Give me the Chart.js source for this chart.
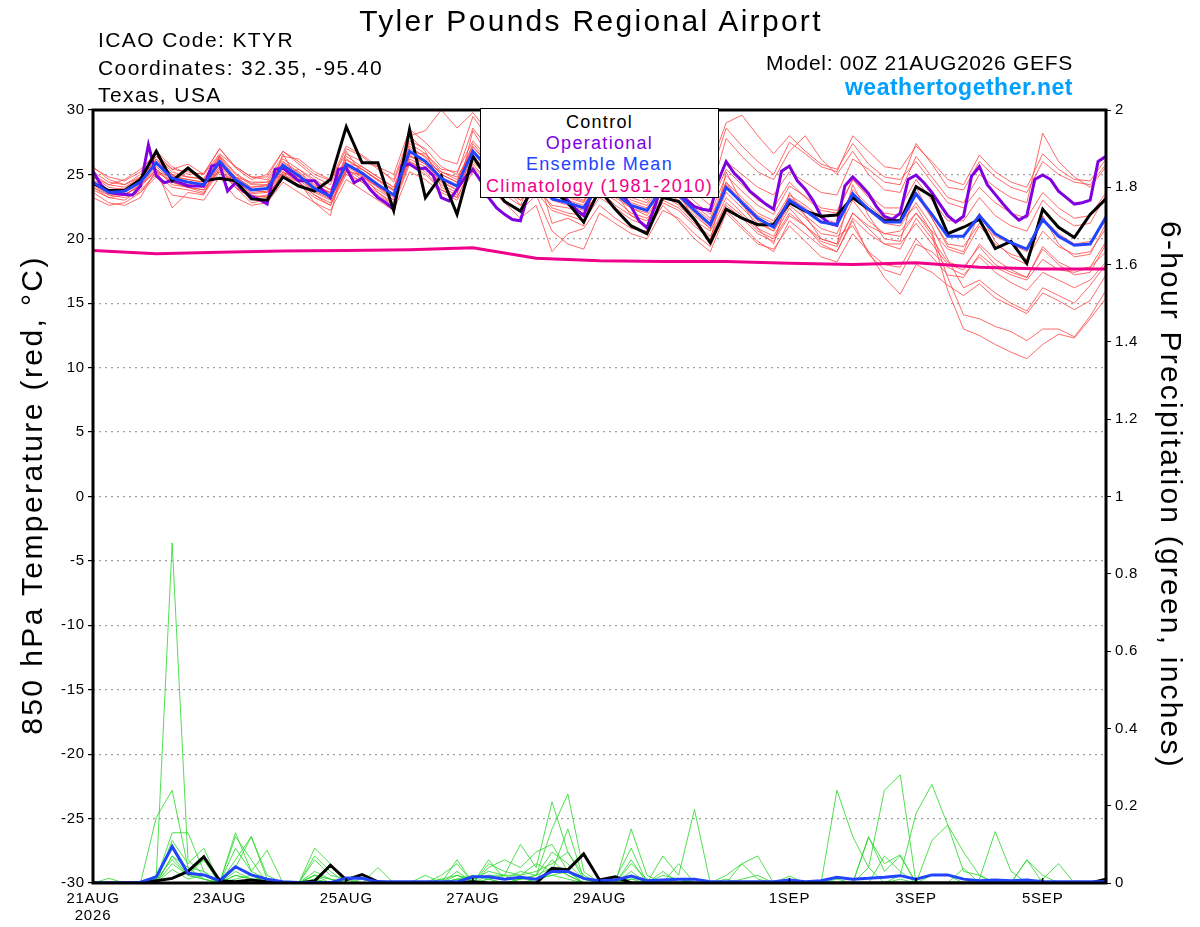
<!DOCTYPE html>
<html>
<head>
<meta charset="utf-8">
<script src="https://cdn.jsdelivr.net/npm/chart.js@4.4.1/dist/chart.umd.min.js"></script>
<style>
  body { margin: 0; background: #fff; font-family: "Liberation Sans", Arial, sans-serif; }
  #wrap { position: relative; width: 1200px; height: 927px; overflow: hidden; }
  #c { position: absolute; left: 0; top: 0; }
  .t { position: absolute; line-height: 1; white-space: nowrap; color: #000; }
  #title { left: 291px; width: 600px; text-align: center; top: 6px; font-size: 30px; letter-spacing: 2.3px; }
  .info { left: 98px; font-size: 21px; letter-spacing: 1.4px; }
  .rinfo { right: 127px; font-size: 21px; text-align: right; letter-spacing: 0.7px; }
  #site { font-weight: bold; font-size: 23px; color: #00a0ff; letter-spacing: 0.5px; }
  #legend { position: absolute; left: 480px; top: 108px; width: 237px; height: 88px;
            border: 1px solid #000; background: #fff; font-size: 18px; text-align: center; letter-spacing: 1.3px; }
  #legend div { position: absolute; left: 0; width: 100%; line-height: 1; }
  .axt { position: absolute; width: 700px; height: 30px; line-height: 30px; font-size: 30px;
         text-align: center; white-space: nowrap; color: #000; }
  #ytitle { left: -318px; top: 480px; transform: rotate(-90deg); letter-spacing: 2.4px; }
  #y2title { left: 821px; top: 480px; transform: rotate(90deg); letter-spacing: 2.2px; }
</style>
</head>
<body>
<div id="wrap">
  <canvas id="c" width="1200" height="927"></canvas>
  <div class="t" id="title">Tyler Pounds Regional Airport</div>
  <div class="t info" style="top:28.5px">ICAO Code: KTYR</div>
  <div class="t info" style="top:56.5px">Coordinates: 32.35, -95.40</div>
  <div class="t info" style="top:83.5px">Texas, USA</div>
  <div class="t rinfo" style="top:52px">Model: 00Z 21AUG2026 GEFS</div>
  <div class="t rinfo" id="site" style="top:76px">weathertogether.net</div>
  <div class="axt" id="ytitle">850 hPa Temperature (red, °C)</div>
  <div class="axt" id="y2title">6-hour Precipitation (green, inches)</div>
  <div id="legend">
    <div style="top:4px;color:#000">Control</div>
    <div style="top:25px;color:#8000e0">Operational</div>
    <div style="top:46px;color:#2244ff">Ensemble Mean</div>
    <div style="top:68px;color:#f0008a">Climatology (1981-2010)</div>
  </div>
</div>
<script>
// x axis in forecast hours from 00Z 21AUG2026
const tickHours = [0, 48, 96, 144, 192, 264, 312, 360];
const tickLabels = ['21AUG', '23AUG', '25AUG', '27AUG', '29AUG', '1SEP', '3SEP', '5SEP'];
const tickYear = '2026';

// 850 hPa temperature (C), 6-hourly
const controlT = [24.3,23.75,23.75,24.6,26.8,24.5,25.5,24.5,24.7,24.5,23.1,23.0,24.8,24.1,23.7,24.6,28.7,25.9,25.9,22.2,28.5,23.2,24.9,21.9,26.4,24.6,22.9,22.15,24.5,23.8,22.8,21.3,23.8,22.3,21.0,20.4,23.2,22.9,21.5,19.7,22.3,21.6,21.1,21.1,22.8,22.15,21.75,21.85,23.2,22.3,21.4,21.4,24.05,23.3,20.4,20.9,21.5,19.25,19.8,18.1,22.3,20.9,20.1,21.9,23.1];
const meanT = [24.4,23.6,23.7,24.4,25.9,24.7,24.4,24.2,26.0,24.6,23.8,23.9,25.7,24.9,23.9,23.3,25.8,25.1,24.2,23.4,26.8,26.0,24.7,24.1,26.8,25.4,24.2,23.5,24.6,23.1,22.8,22.4,24.3,23.5,22.6,22.2,24.0,23.4,22.2,21.1,24.0,22.8,21.6,20.9,23.0,22.2,21.3,21.1,23.5,22.3,21.3,21.3,23.5,21.9,20.2,20.2,21.8,20.4,19.7,19.2,21.5,20.2,19.5,19.6,21.7];
// operational run, 3-hourly
const operT = [25.25,24.2,23.6,23.5,23.45,23.4,24.1,27.3,24.9,24.35,24.55,24.35,24.1,24.1,24.1,25.65,25.8,23.7,24.35,23.7,23.3,23.05,22.7,25.4,25.5,25.0,24.5,24.5,24.5,23.8,23.2,25.4,25.5,24.35,24.7,23.85,23.2,22.8,22.3,25.65,25.8,25.4,25.5,24.9,23.2,22.95,23.85,24.75,25.4,24.5,23.2,22.4,21.9,21.5,21.4,23.5,25.0,24.5,24.0,23.6,23.0,22.3,21.8,23.5,25.0,24.5,24.0,23.4,22.5,21.4,20.85,22.5,24.5,24.0,23.5,23.0,22.5,22.3,22.2,24.5,26.0,25.1,24.5,23.7,23.2,22.7,22.3,25.25,25.65,24.5,23.85,22.95,21.75,21.2,21.05,24.1,24.8,24.2,23.5,22.5,21.75,21.5,22.0,24.6,24.95,24.35,23.6,22.7,21.8,21.3,21.75,24.85,25.6,24.2,23.45,22.7,22.0,21.45,21.8,24.6,24.95,24.6,23.7,23.2,22.7,22.8,23.0,26.0,26.4];
// climatology, daily
const climT = [19.1,18.85,18.95,19.05,19.1,19.15,19.3,18.5,18.3,18.25,18.25,18.1,18.0,18.15,17.8,17.65,17.65];

// ensemble members, 6-hourly
const memberT = [
  [25.5,24.8,24.5,25.2,26.8,25.6,25.0,25.1,27.0,25.5,24.6,25.0,26.8,26.0,25.0,24.5,27.2,26.5,25.6,25.0,28.5,27.5,26.2,25.8,29.5,27.8,26.5,25.8,27.0,25.6,25.2,24.8,27.0,26.2,25.4,25.0,27.6,26.8,25.8,24.8,28.6,27.2,26.0,25.0,27.5,26.6,25.6,25.2,28.0,26.8,25.6,25.4,27.2,26.0,24.6,24.2,26.5,25.2,24.4,24.0,26.6,25.4,24.6,24.5,26.2],
  [23.8,23.2,23.0,23.8,25.0,24.0,23.8,23.5,25.2,24.0,23.2,23.3,25.0,24.2,23.2,22.6,25.0,24.4,23.4,22.6,25.8,25.0,23.8,23.2,25.6,24.4,23.4,22.6,23.6,22.2,21.8,21.4,23.2,22.4,21.5,21.0,22.8,22.2,21.0,20.0,22.6,21.6,20.4,19.8,21.8,21.0,20.0,19.6,22.0,20.8,19.6,19.2,21.6,20.0,18.2,17.8,19.4,18.0,17.4,17.0,19.2,18.0,17.2,17.4,19.6],
  [24.0,23.4,23.5,24.0,25.4,24.4,24.0,23.8,25.6,24.3,23.5,23.6,25.2,24.6,23.6,23.0,25.4,24.8,24.0,23.0,26.2,25.6,24.2,23.6,26.0,24.8,23.8,23.0,24.0,22.6,22.4,22.0,23.6,23.0,22.0,21.6,23.0,22.4,21.2,20.2,22.8,21.8,20.6,20.0,22.0,21.0,19.8,19.4,22.0,21.0,20.4,20.6,22.0,20.3,16.0,13.0,12.5,11.8,11.2,10.7,11.8,12.6,12.3,13.8,15.4],
  [24.8,24.0,23.8,24.6,26.2,25.0,24.8,24.6,26.4,25.0,24.2,24.2,26.0,25.2,24.2,23.6,26.2,25.4,24.6,23.8,27.0,26.4,25.0,24.4,27.4,26.0,24.8,24.0,25.2,23.6,23.2,22.8,24.8,24.0,23.0,22.6,24.4,23.8,22.6,21.6,24.4,23.2,22.0,21.4,23.4,22.6,21.6,21.2,23.8,22.6,21.6,21.4,22.5,20.5,17.0,14.1,13.8,13.2,12.8,12.1,13.0,13.0,12.4,14.0,16.0],
  [24.2,23.6,23.4,24.2,25.6,24.5,24.2,24.0,25.8,24.4,23.6,23.7,25.5,24.7,23.7,23.1,25.6,24.9,24.0,23.2,26.5,25.8,24.5,23.8,26.4,25.2,24.0,23.2,24.4,23.0,22.6,22.2,24.0,23.2,22.4,21.8,23.6,23.0,21.8,20.8,23.6,22.4,21.2,20.6,22.6,21.6,20.4,20.2,21.0,19.0,17.0,15.7,18.0,17.4,16.4,15.6,16.5,15.4,14.8,14.2,15.8,15.2,14.5,15.2,17.2],
  [25.0,24.2,24.0,24.8,26.4,25.2,24.8,24.7,26.5,25.1,24.3,24.4,26.2,25.4,24.4,23.8,26.4,25.6,24.8,24.0,27.4,26.6,25.2,24.6,27.2,25.8,24.6,23.8,25.0,23.4,23.0,22.6,24.6,23.8,22.8,22.4,24.2,23.6,22.4,21.4,24.2,23.0,21.8,21.2,23.2,22.4,21.4,21.0,23.4,22.2,21.2,21.0,22.8,21.0,18.4,16.2,16.8,15.8,15.0,14.4,16.2,15.6,15.0,16.4,18.0],
  [24.6,23.8,23.9,24.7,26.2,24.9,24.6,24.4,26.3,24.8,24.0,24.1,25.9,25.1,24.1,23.5,26.1,25.4,24.5,23.7,27.2,26.3,25.0,24.4,27.1,25.8,24.6,23.9,25.1,23.6,23.3,22.9,24.9,24.1,23.2,22.8,24.7,24.1,22.9,21.9,24.9,23.7,22.6,21.9,24.1,23.3,22.4,22.2,24.6,23.4,22.4,22.4,24.6,23.0,21.4,21.4,23.2,21.8,21.0,20.6,23.0,21.8,21.0,21.2,23.4],
  [23.6,22.8,22.6,23.2,25.4,22.4,23.6,23.4,26.4,24.0,22.8,23.0,26.6,24.4,22.8,21.8,26.8,25.0,23.6,22.6,28.0,26.8,24.0,23.4,28.4,26.4,24.2,22.6,25.4,21.2,21.6,21.0,25.4,23.6,21.8,21.0,25.0,23.6,21.4,19.8,25.2,22.8,20.8,19.6,23.6,21.8,20.0,19.6,24.2,21.8,20.0,19.8,24.0,21.6,19.4,19.0,22.0,19.8,18.6,18.0,21.8,19.6,18.6,18.8,21.2],
  [25.2,24.4,24.2,25.0,26.4,25.4,25.2,25.0,27.0,25.6,24.8,24.8,26.8,25.8,24.8,24.2,27.0,26.4,25.4,24.6,28.0,28.4,30.0,28.6,29.8,28.2,26.8,25.8,27.2,25.6,25.0,24.6,26.8,26.0,25.0,24.6,27.0,26.4,25.8,25.6,29.0,29.6,28.0,26.6,28.0,26.8,25.8,25.4,27.4,25.8,24.8,24.6,26.0,24.4,22.8,22.4,24.0,22.8,22.0,21.6,23.6,22.4,21.6,21.8,23.6],
  [24.0,23.2,23.4,24.2,25.4,24.2,24.0,23.8,25.4,24.0,23.2,23.4,25.0,24.4,23.4,22.8,25.2,24.4,23.6,22.8,26.0,25.2,23.8,23.2,25.8,24.4,23.0,22.2,23.4,20.6,19.6,19.2,22.0,21.2,20.4,20.0,22.2,21.6,20.4,19.4,22.2,21.0,19.8,19.0,21.4,20.4,19.4,19.0,21.6,20.4,19.6,19.6,21.2,19.6,18.0,17.6,19.6,18.4,17.6,17.0,19.4,18.2,17.6,17.8,19.8],
  [24.2,23.6,23.8,24.6,25.8,24.8,24.6,24.4,25.8,24.8,24.0,24.2,25.6,25.0,24.0,23.6,25.6,25.4,24.6,23.8,26.4,26.0,25.2,24.8,26.8,25.8,24.8,24.2,25.0,24.0,23.8,23.6,25.0,24.4,23.6,23.4,25.2,24.8,24.0,23.2,26.0,25.0,24.0,23.4,25.2,24.4,23.6,23.4,26.2,25.4,24.4,24.2,27.4,25.8,24.0,23.8,26.0,24.8,24.0,23.6,26.0,25.0,24.4,24.2,25.8],
  [23.2,22.6,22.8,23.6,24.8,23.4,23.2,23.0,24.8,23.2,22.6,22.8,24.4,23.6,22.8,22.2,24.6,23.8,23.0,22.2,25.2,24.6,23.6,23.0,25.2,24.0,22.8,21.6,22.6,19.0,20.4,20.8,22.6,21.6,20.8,20.6,22.6,21.4,20.0,19.0,22.0,20.8,19.6,19.2,21.0,19.8,18.6,18.2,20.4,19.0,18.0,17.8,20.0,18.6,17.2,17.0,18.8,17.8,17.2,16.8,18.4,17.6,17.4,17.8,19.0],
  [24.8,24.2,24.6,25.4,26.6,25.4,25.8,25.0,26.6,25.6,24.8,24.6,26.4,26.2,25.2,24.6,26.6,26.0,25.6,24.4,27.6,27.0,25.6,25.0,28.6,27.0,25.4,24.6,26.0,24.8,24.4,24.0,26.2,25.4,24.4,24.0,26.0,25.4,24.4,23.4,27.8,26.4,25.2,24.6,26.8,28.0,26.2,25.0,26.8,25.0,23.8,23.6,26.4,24.8,23.2,22.8,25.0,24.0,23.2,22.8,28.2,26.0,24.8,24.0,25.6],
  [24.4,23.8,23.4,24.2,25.2,24.8,24.4,24.2,25.2,24.4,23.8,23.6,25.4,24.8,23.8,23.2,25.2,25.0,24.0,23.4,26.0,25.4,24.4,23.8,26.2,25.4,24.0,23.0,24.2,22.4,22.0,21.8,23.8,22.6,21.8,21.4,23.4,22.6,21.4,20.6,23.2,22.0,20.8,20.2,22.4,21.0,19.6,19.0,21.4,18.8,17.6,17.2,19.6,19.0,17.8,17.2,18.6,17.4,16.6,16.0,17.4,16.8,16.2,16.8,18.2],
  [25.6,24.6,24.2,24.8,26.0,25.0,24.2,24.0,25.6,24.8,24.4,24.4,25.0,25.4,24.6,23.8,25.8,25.6,24.8,24.0,26.6,26.6,25.4,25.2,27.6,26.2,25.0,24.4,25.4,23.8,23.4,23.0,25.6,24.6,23.6,23.0,25.6,25.0,23.6,22.6,25.4,24.2,23.0,22.4,24.4,23.2,22.2,22.0,24.6,23.2,22.0,21.8,23.4,21.6,19.6,19.4,21.2,20.2,19.6,19.0,21.6,20.4,19.6,19.8,21.4],
  [24.2,23.4,23.2,23.6,25.2,24.4,24.0,23.6,25.4,24.2,23.4,23.2,25.2,24.4,23.4,22.6,25.4,24.6,23.8,23.0,26.4,25.8,24.6,24.0,26.8,25.4,24.2,23.4,24.6,23.2,22.8,22.4,24.4,23.4,22.4,22.0,24.2,23.2,22.0,20.8,24.4,22.6,21.4,20.6,23.0,21.8,20.8,20.4,23.0,21.4,20.4,20.2,22.0,20.6,19.2,18.8,21.0,19.6,18.8,18.4,20.6,19.4,18.8,19.0,20.8]
];

// 6-hour precipitation (inches), 6-hourly
const controlP = [0,0,0,0,0.006,0.012,0.03,0.068,0.006,0.003,0.008,0.003,0,0,0.005,0.046,0.008,0.022,0.003,0,0,0,0,0,0.003,0,0,0,0,0.038,0.034,0.075,0.008,0.016,0,0,0,0,0,0,0,0,0,0,0,0,0,0,0,0,0,0,0,0,0,0,0,0,0,0,0,0,0,0,0.01];
const meanP = [0,0,0,0.002,0.016,0.094,0.025,0.021,0.006,0.042,0.021,0.01,0.003,0.001,0.001,0.001,0.013,0.012,0.003,0.003,0.003,0.003,0.003,0.003,0.016,0.016,0.01,0.015,0.01,0.03,0.03,0.012,0.006,0.008,0.018,0.006,0.008,0.01,0.01,0.003,0.003,0.003,0.003,0.003,0.008,0.003,0.006,0.015,0.01,0.012,0.015,0.019,0.01,0.021,0.021,0.01,0.006,0.008,0.006,0.008,0.003,0.003,0.003,0.003,0.003];
const memberP = [
  [0,0,0,0,0.02,0.88,0.06,0.02,0,0.04,0.12,0.02,0, 0,0.02,0.01,0,0,0,0,0,0,0,0.02,0.01,0.03, 0.02,0.10,0.04,0.21,0.08,0.01,0,0,0.05,0.01,0,0,0.01, 0,0,0,0,0,0,0,0,0.24,0.12,0.04,0,0, 0,0,0,0,0,0,0,0,0,0,0,0,0],
  [0,0,0,0,0.17,0.24,0.04,0.01,0,0.02,0.01,0,0, 0,0.09,0.05,0,0,0.04,0,0,0,0,0.06,0,0.06, 0.01,0.03,0.02,0.14,0.23,0.03,0,0,0.02,0,0.07,0.02,0.19, 0,0,0.01,0.02,0,0,0,0,0.01,0,0.12,0.03,0.07, 0,0,0,0,0.01,0.133,0.03,0,0.01,0.05,0,0,0],
  [0,0.012,0,0,0.01,0.13,0.13,0.03,0,0.13,0.03,0.01,0, 0,0.07,0.03,0,0,0,0,0,0,0.02,0.05,0,0.05, 0.03,0.02,0.05,0.03,0.14,0.01,0,0,0.14,0.02,0,0.01,0, 0,0,0.05,0.07,0,0,0,0,0,0,0.04,0.24,0.28, 0,0,0,0,0,0,0,0,0,0,0,0,0],
  [0,0,0,0,0,0.11,0.05,0.09,0,0.12,0.06,0,0, 0,0.06,0.02,0.01,0,0,0,0,0,0.01,0.02,0,0.04, 0.06,0.04,0.08,0.10,0.03,0,0,0.01,0.09,0,0,0.05,0, 0,0.01,0,0,0,0,0,0,0,0,0,0,0.02, 0.18,0.255,0.15,0.08,0.02,0,0,0,0,0,0,0,0],
  [0,0,0,0,0.01,0.10,0.03,0.06,0,0.09,0.03,0.085,0, 0,0.02,0,0,0.01,0,0,0,0,0,0.01,0.01,0.02, 0.02,0.02,0.03,0.05,0.08,0.02,0,0,0.06,0,0,0,0, 0,0,0,0,0,0,0,0,0,0,0.118,0.05,0.073, 0,0.11,0.15,0.03,0.02,0,0,0.06,0,0,0,0,0],
  [0,0,0,0,0,0.07,0.02,0.01,0,0.06,0.12,0.01,0, 0,0,0.05,0,0,0,0,0,0.02,0,0.01,0,0, 0,0,0.01,0.06,0.02,0,0,0,0,0,0.03,0,0, 0,0.02,0.05,0.01,0,0,0,0,0,0,0,0.07,0.03, 0,0,0,0.038,0,0,0,0.06,0.02,0,0,0,0],
  [0,0,0,0,0,0.05,0.02,0.06,0,0.04,0.02,0,0, 0,0.03,0.01,0,0,0,0,0,0,0.01,0,0,0.02, 0.01,0.01,0.02,0.08,0.05,0.01,0,0,0.03,0,0.02,0.01,0, 0,0,0,0,0,0.018,0,0,0,0,0,0,0, 0,0,0,0,0,0,0,0,0,0,0,0,0],
  [0,0,0,0,0,0.035,0.01,0.02,0,0.02,0.01,0.01,0, 0,0.01,0,0,0,0,0,0,0,0,0,0,0.01, 0,0.01,0.01,0.02,0.03,0,0,0,0.01,0.01,0,0,0, 0,0,0,0,0,0,0,0,0,0,0,0,0.01, 0,0.02,0.02,0,0,0,0,0.01,0,0,0,0,0],
  [0,0,0,0,0,0.07,0.04,0.03,0,0.03,0.01,0,0, 0,0.01,0,0,0,0,0,0,0,0,0.03,0,0.01, 0,0.01,0.02,0.04,0.02,0,0,0,0.02,0,0,0,0, 0,0,0,0,0,0,0,0,0,0,0,0,0, 0,0,0,0,0,0,0,0,0,0,0,0,0],
  [0,0,0,0,0.01,0.06,0.02,0.01,0,0.01,0.02,0,0, 0,0.02,0.01,0,0,0,0,0,0,0,0.01,0.02,0.01, 0.02,0,0.01,0.02,0.01,0,0,0.01,0.01,0,0,0,0, 0,0,0,0,0,0,0,0,0,0,0,0,0, 0,0,0,0,0,0,0,0,0,0,0,0,0]
];

const font = '"Liberation Sans", Arial, sans-serif';

function series(vals, step) {
  return vals.map((v, i) => ({ x: i * step, y: v }));
}

function line(vals, step, color, width, axis, order) {
  return {
    data: series(vals, step),
    borderColor: color,
    borderWidth: width,
    yAxisID: axis,
    order: order,
    pointRadius: 0,
    tension: 0,
    fill: false
  };
}

var datasets = [];
memberT.forEach(m => datasets.push(line(m, 6, 'rgba(255,60,60,0.85)', 0.9, 'y', 20)));
memberP.forEach(m => datasets.push(line(m, 6, 'rgba(40,215,40,0.9)', 0.9, 'y2', 19)));
datasets.push(line(climT, 24, '#f0008a', 3, 'y', 6));
datasets.push(line(operT, 3, '#8000e0', 3, 'y', 5));
datasets.push(line(controlT, 6, '#000000', 3, 'y', 4));
datasets.push(line(meanT, 6, '#2244ff', 3, 'y', 3));
datasets.push(line(controlP, 6, '#000000', 3, 'y2', 2));
datasets.push(line(meanP, 6, '#2244ff', 3, 'y2', 1));

// wider tick text, frame and inward x ticks
const framePlugin = {
  id: 'frame',
  beforeDraw(chart) {
    chart.ctx.letterSpacing = '0.8px';
  },
  afterDraw(chart) {
    const ctx = chart.ctx, a = chart.chartArea, xs = chart.scales.x;
    ctx.save();
    ctx.strokeStyle = '#000';
    ctx.lineWidth = 1.5;
    tickHours.forEach(h => {
      const px = xs.getPixelForValue(h);
      ctx.beginPath();
      ctx.moveTo(px, a.bottom);
      ctx.lineTo(px, a.bottom - 5);
      ctx.stroke();
    });
    ctx.lineWidth = 3;
    ctx.strokeRect(a.left, a.top, a.right - a.left, a.bottom - a.top);
    ctx.restore();
  }
};

new Chart(document.getElementById('c').getContext('2d'), {
  type: 'line',
  data: { datasets: datasets },
  options: {
    responsive: false,
    animation: false,
    devicePixelRatio: 1,
    layout: { padding: { top: 110, left: 0, right: 0, bottom: 0 } },
    plugins: { legend: { display: false }, tooltip: { enabled: false } },
    scales: {
      x: {
        type: 'linear',
        min: 0,
        max: 384,
        afterBuildTicks: s => { s.ticks = tickHours.map(v => ({ value: v })); },
        afterFit: s => { s.height = 44; },
        grid: { drawOnChartArea: false, drawTicks: false },
        border: { display: false },
        ticks: {
          autoSkip: false,
          maxRotation: 0,
          padding: 7,
          color: '#000',
          font: { family: font, size: 15, lineHeight: 1.15 },
          callback: (v, i) => i === 0 ? [tickLabels[i], tickYear] : tickLabels[i]
        }
      },
      y: {
        position: 'left',
        min: -30,
        max: 30,
        afterFit: s => { s.width = 93; },
        ticks: { stepSize: 5, padding: 3, color: '#000', font: { family: font, size: 15 } },
        grid: {
          color: c => (c.tick.value === 30 || c.tick.value === -30) ? 'rgba(0,0,0,0)' : '#a0a0a0',
          lineWidth: 1.2,
          tickColor: '#000',
          tickLength: 5
        },
        border: { display: false, dash: [2, 4] }
      },
      y2: {
        position: 'right',
        min: 0,
        max: 2,
        afterFit: s => { s.width = 94; },
        ticks: {
          stepSize: 0.2, padding: 4, color: '#000', font: { family: font, size: 15 },
          callback: v => String(Math.round(v * 10) / 10)
        },
        grid: { drawOnChartArea: false, tickColor: '#000', tickLength: 5 },
        border: { display: false }
      }
    }
  },
  plugins: [framePlugin]
});
</script>
</body>
</html>
